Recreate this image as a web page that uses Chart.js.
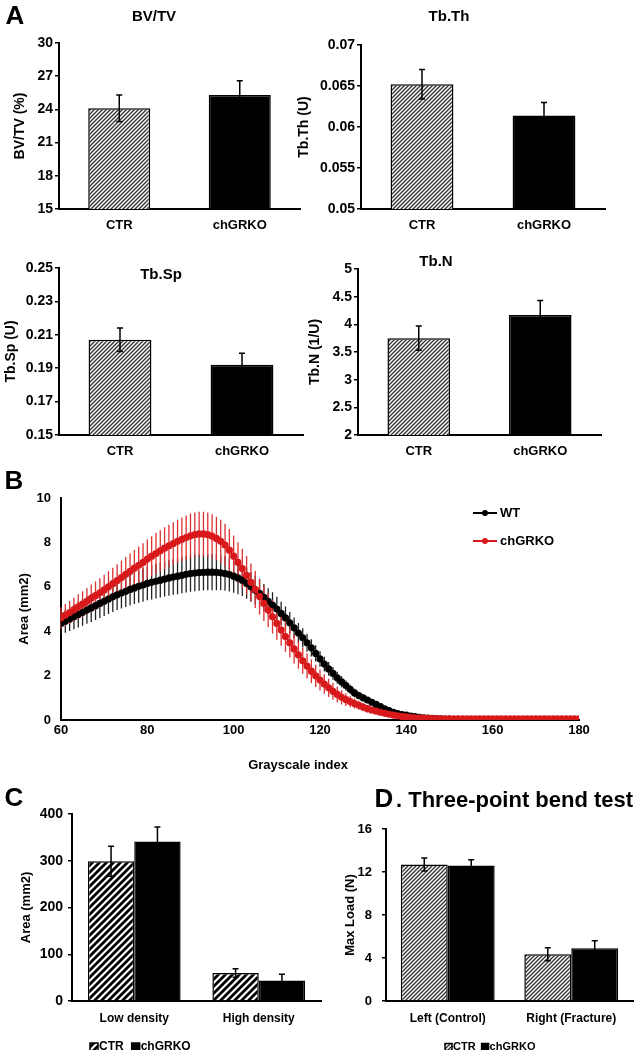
<!DOCTYPE html>
<html><head><meta charset="utf-8">
<script src="https://cdn.jsdelivr.net/npm/chart.js@4.4.0/dist/chart.umd.min.js"></script>
<style>
html,body{margin:0;padding:0;background:#fff;}
#fig{position:relative;width:636px;height:1050px;background:#fff;overflow:hidden;}
#fig canvas{position:absolute;}
</style></head><body><div id="fig"></div>
<script>
// ---------------- DATA ----------------
const groupsA = ['CTR', 'chGRKO'];
const bvtvMean = [24.1, 25.3];
const bvtvErr = [1.2, 1.3];
const tbthMean = [0.0652, 0.0614];
const tbthErr = [0.0018, 0.0016];
const tbspMean = [0.207, 0.192];
const tbspErr = [0.007, 0.007];
const tbnMean = [3.75, 4.17];
const tbnErr = [0.22, 0.26];

const densityCats = ['Low density', 'High density'];
const densityCTR = [299, 60];
const densityCTRErr = [32, 9];
const densityKO = [341, 44];
const densityKOErr = [31, 13];

const bendCats = ['Left (Control)', 'Right (Fracture)'];
const bendCTR = [12.7, 4.35];
const bendCTRErr = [0.6, 0.6];
const bendKO = [12.6, 4.9];
const bendKOErr = [0.55, 0.7];

const grayscale = [60,61,62,63,64,65,66,67,68,69,70,71,72,73,74,75,76,77,78,79,
  80,81,82,83,84,85,86,87,88,89,90,91,92,93,94,95,96,97,98,99,
  100,101,102,103,104,105,106,107,108,109,110,111,112,113,114,115,116,117,118,119,
  120,121,122,123,124,125,126,127,128,129,130,131,132,133,134,135,136,137,138,139,
  140,141,142,143,144,145,146,147,148,149,150,151,152,153,154,155,156,157,158,159,
  160,161,162,163,164,165,166,167,168,169,170,171,172,173,174,175,176,177,178,179,180];
const areaWT = [4.35,4.45,4.55,4.65,4.75,4.85,4.95,5.05,5.15,5.25,
  5.35,5.45,5.55,5.64,5.72,5.80,5.88,5.95,6.02,6.08,
  6.15,6.20,6.25,6.30,6.35,6.40,6.44,6.48,6.52,6.56,
  6.60,6.62,6.64,6.65,6.66,6.66,6.65,6.63,6.60,6.55,
  6.48,6.40,6.30,6.15,6.00,5.85,5.70,5.52,5.35,5.18,
  5.00,4.80,4.60,4.38,4.15,3.92,3.70,3.48,3.25,3.00,
  2.75,2.52,2.30,2.10,1.90,1.72,1.55,1.38,1.22,1.10,
  1.00,0.90,0.80,0.70,0.60,0.50,0.42,0.35,0.29,0.24,
  0.22,0.18,0.15,0.12,0.10,0.08,0.07,0.06,0.05,0.04,
  0.04,0.03,0.03,0.03,0.02,0.02,0.02,0.02,0.02,0.02,
  0.02,0.02,0.02,0.02,0.02,0.02,0.02,0.02,0.02,0.02,
  0.02,0.02,0.02,0.02,0.02,0.02,0.02,0.02,0.02,0.02,0.02];
const areaWTsd = [0.50,0.52,0.54,0.56,0.58,0.60,0.62,0.63,0.64,0.65,
  0.66,0.67,0.68,0.69,0.70,0.71,0.72,0.73,0.74,0.75,
  0.76,0.77,0.78,0.78,0.79,0.80,0.80,0.81,0.81,0.82,
  0.82,0.82,0.82,0.82,0.81,0.81,0.80,0.79,0.78,0.76,
  0.75,0.73,0.71,0.69,0.67,0.65,0.63,0.61,0.59,0.57,
  0.55,0.53,0.51,0.49,0.47,0.45,0.43,0.41,0.39,0.37,
  0.35,0.33,0.31,0.29,0.27,0.25,0.23,0.21,0.19,0.17,
  0.15,0.14,0.13,0.12,0.11,0.10,0.09,0.08,0.07,0.06,
  0.05,0.05,0.04,0.04,0.03,0.03,0.03,0.02,0.02,0.02,
  0.01,0.01,0.01,0.01,0.01,0.01,0.01,0.01,0.01,0.01,
  0.01,0.01,0.01,0.01,0.01,0.01,0.01,0.01,0.01,0.01,
  0.01,0.01,0.01,0.01,0.01,0.01,0.01,0.01,0.01,0.01,0.01];
const areaKO = [4.60,4.72,4.84,4.97,5.10,5.22,5.35,5.48,5.60,5.73,
  5.86,6.00,6.14,6.28,6.42,6.56,6.70,6.84,6.97,7.10,
  7.25,7.38,7.50,7.62,7.74,7.85,7.95,8.05,8.14,8.22,
  8.30,8.35,8.38,8.38,8.35,8.28,8.18,8.05,7.88,7.65,
  7.38,7.10,6.82,6.52,6.20,5.88,5.56,5.25,4.95,4.65,
  4.35,4.05,3.76,3.48,3.20,2.93,2.67,2.43,2.20,1.99,
  1.80,1.62,1.45,1.29,1.15,1.02,0.92,0.83,0.74,0.66,
  0.58,0.51,0.45,0.40,0.35,0.30,0.26,0.22,0.19,0.16,
  0.14,0.12,0.10,0.09,0.08,0.07,0.06,0.06,0.05,0.05,
  0.05,0.05,0.05,0.05,0.05,0.05,0.05,0.05,0.05,0.05,
  0.05,0.05,0.05,0.05,0.05,0.05,0.05,0.05,0.05,0.05,
  0.05,0.05,0.05,0.05,0.05,0.05,0.05,0.05,0.05,0.05,0.05];
const areaKOsd = [0.48,0.50,0.52,0.54,0.56,0.58,0.60,0.62,0.64,0.66,
  0.68,0.70,0.72,0.74,0.76,0.78,0.80,0.82,0.84,0.86,
  0.88,0.90,0.92,0.93,0.94,0.95,0.96,0.97,0.98,0.99,
  1.00,1.00,1.00,1.00,1.00,0.99,0.98,0.97,0.96,0.95,
  0.93,0.91,0.89,0.87,0.85,0.83,0.81,0.79,0.77,0.75,
  0.73,0.71,0.69,0.67,0.65,0.62,0.59,0.56,0.53,0.50,
  0.47,0.44,0.41,0.38,0.35,0.32,0.29,0.26,0.23,0.21,
  0.19,0.17,0.15,0.13,0.11,0.10,0.09,0.08,0.07,0.06,
  0.05,0.05,0.04,0.04,0.03,0.03,0.03,0.02,0.02,0.02,
  0.01,0.01,0.01,0.01,0.01,0.01,0.01,0.01,0.01,0.01,
  0.01,0.01,0.01,0.01,0.01,0.01,0.01,0.01,0.01,0.01,
  0.01,0.01,0.01,0.01,0.01,0.01,0.01,0.01,0.01,0.01,0.01];

// ---------------- STYLE HELPERS ----------------
const FONT = "'Liberation Sans', Arial, Helvetica, sans-serif";
const RED = '#d8191c';
function bold(size) { return { family: FONT, size: size, weight: 'bold' }; }
function fmt(v) { return String(parseFloat(Number(v).toFixed(4))); }

function hatch(size, lw, color) {
  const c = document.createElement('canvas');
  c.width = size; c.height = size;
  const g = c.getContext('2d');
  g.fillStyle = '#fff'; g.fillRect(0, 0, size, size);
  g.strokeStyle = color; g.lineWidth = lw;
  g.beginPath();
  g.moveTo(-2, size + 2); g.lineTo(size + 2, -2);
  g.moveTo(-2, 2); g.lineTo(2, -2);
  g.moveTo(size - 2, size + 2); g.lineTo(size + 2, size - 2);
  g.stroke();
  return g.createPattern(c, 'repeat');
}
const fineHatch = hatch(4, 1.4, '#333');
const wideHatch = hatch(7, 2.8, '#000');

// error bars for bar charts
const barErrors = {
  id: 'barErrors',
  afterDatasetsDraw(chart, args, opts) {
    const ctx = chart.ctx, y = chart.scales.y;
    chart.data.datasets.forEach((ds, di) => {
      if (!ds.errors) return;
      const meta = chart.getDatasetMeta(di);
      meta.data.forEach((bar, i) => {
        const v = ds.data[i], e = ds.errors[i];
        const yt = y.getPixelForValue(v + e), yb = y.getPixelForValue(v - e);
        const cw = opts.cap || 3;
        ctx.save();
        ctx.strokeStyle = '#000'; ctx.lineWidth = opts.width || 1.5;
        ctx.beginPath();
        ctx.moveTo(bar.x, yt); ctx.lineTo(bar.x, yb);
        ctx.moveTo(bar.x - cw, yt); ctx.lineTo(bar.x + cw, yt);
        ctx.moveTo(bar.x - cw, yb); ctx.lineTo(bar.x + cw, yb);
        ctx.stroke();
        ctx.restore();
      });
    });
  }
};

// error bars for line chart (drawn beneath the lines)
const lineErrors = {
  id: 'lineErrors',
  beforeDatasetsDraw(chart) {
    const ctx = chart.ctx, x = chart.scales.x, y = chart.scales.y;
    chart.data.datasets.forEach((ds) => {
      if (!ds.sd) return;
      ctx.save();
      ctx.strokeStyle = ds.errColor || ds.borderColor; ctx.lineWidth = 1.3;
      ctx.beginPath();
      ds.data.forEach((p, i) => {
        const px = x.getPixelForValue(p.x);
        ctx.moveTo(px, y.getPixelForValue(p.y + ds.sd[i]));
        ctx.lineTo(px, y.getPixelForValue(Math.max(0, p.y - ds.sd[i])));
      });
      ctx.stroke();
      ctx.restore();
    });
  }
};

// free text (panel letters, titles)
const freeText = {
  id: 'freeText',
  afterDraw(chart, args, opts) {
    const ctx = chart.ctx;
    (opts.items || []).forEach(it => {
      ctx.save();
      ctx.font = it.font; ctx.fillStyle = it.color || '#000';
      ctx.textAlign = it.align || 'center'; ctx.textBaseline = 'middle';
      ctx.fillText(it.text, it.x, it.y);
      ctx.restore();
    });
  }
};

// bar legend (box + label), drawn from datasets
const boxLegend = {
  id: 'boxLegend',
  afterDraw(chart, args, opts) {
    if (!opts.x) return;
    const ctx = chart.ctx;
    let x = opts.x;
    const s = opts.box;
    ctx.save();
    ctx.font = 'bold ' + opts.size + 'px ' + FONT;
    ctx.textBaseline = 'middle'; ctx.textAlign = 'left';
    chart.data.datasets.forEach(ds => {
      ctx.fillStyle = ds.backgroundColor;
      ctx.fillRect(x, opts.y - s / 2, s, s);
      ctx.strokeStyle = '#000'; ctx.lineWidth = 1.5;
      ctx.strokeRect(x, opts.y - s / 2, s, s);
      ctx.fillStyle = '#000';
      ctx.fillText(ds.label, x + s + 1, opts.y);
      x += s + 1 + ctx.measureText(ds.label).width + opts.gap;
    });
    ctx.restore();
  }
};

// line legend
const lineLegend = {
  id: 'lineLegend',
  afterDraw(chart, args, opts) {
    if (!opts.x) return;
    const ctx = chart.ctx;
    ctx.save();
    ctx.font = 'bold ' + opts.size + 'px ' + FONT;
    ctx.textBaseline = 'middle'; ctx.textAlign = 'left';
    chart.data.datasets.forEach((ds, i) => {
      const y = opts.y + i * opts.step;
      ctx.strokeStyle = ds.borderColor; ctx.lineWidth = 2;
      ctx.beginPath(); ctx.moveTo(opts.x, y); ctx.lineTo(opts.x + 24, y); ctx.stroke();
      ctx.fillStyle = ds.borderColor;
      ctx.beginPath(); ctx.arc(opts.x + 12, y, 3, 0, Math.PI * 2); ctx.fill();
      ctx.fillStyle = '#000';
      ctx.fillText(ds.label, opts.x + 27, y);
    });
    ctx.restore();
  }
};

Chart.register(barErrors, lineErrors, freeText, boxLegend, lineLegend);

// build a chart whose plot area sits at fixed page coordinates
function makeChart(g, config) {
  const cv = document.createElement('canvas');
  cv.width = g.w; cv.height = g.h;
  cv.style.left = g.x + 'px'; cv.style.top = g.y + 'px';
  cv.style.width = g.w + 'px'; cv.style.height = g.h + 'px';
  document.getElementById('fig').appendChild(cv);
  const o = config.options;
  o.responsive = false; o.animation = false; o.devicePixelRatio = 1;
  o.layout = { padding: { left: 0, top: g.t - g.y, right: g.x + g.w - g.r, bottom: 0 } };
  o.scales.y.afterFit = s => { s.width = g.l - g.x; };
  o.scales.x.afterFit = s => { s.height = g.y + g.h - g.b; };
  o.plugins = Object.assign({ legend: { display: false }, tooltip: { enabled: false } }, o.plugins || {});
  return new Chart(cv, config);
}

function yAxis(min, max, step, title, tickSize, titleSize, titlePad, tickPad) {
  return {
    min: min, max: max,
    ticks: { stepSize: step, color: '#000', font: bold(tickSize), padding: tickPad, callback: fmt },
    grid: { display: true, drawOnChartArea: false, drawTicks: true, tickLength: 4, color: '#000', lineWidth: 1.5 },
    border: { display: true, color: '#000', width: 2 },
    title: { display: true, text: title, color: '#000', font: bold(titleSize), padding: { top: titlePad, bottom: 0 } }
  };
}
function xCat(size, pad) {
  return {
    type: 'category', offset: true,
    ticks: { color: '#000', font: bold(size), padding: pad },
    grid: { display: false, drawTicks: false },
    border: { display: true, color: '#000', width: 2 }
  };
}

// ---------------- PANEL A ----------------
function panelA(g, mean, err, min, max, step, ytitle, titlePad, texts) {
  return makeChart(g, {
    type: 'bar',
    data: {
      labels: groupsA,
      datasets: [{
        data: mean, errors: err,
        backgroundColor: [fineHatch, '#000'],
        borderColor: '#000', borderWidth: 1.5,
        barPercentage: 1, categoryPercentage: 0.515
      }]
    },
    options: {
      scales: { x: xCat(13, 9), y: yAxis(min, max, step, ytitle, 14, 14, titlePad, 2) },
      plugins: { barErrors: { cap: 3, width: 1.5 }, freeText: { items: texts } }
    }
  });
}

panelA({ x: 0, y: 0, w: 318, h: 236, l: 59, r: 300, t: 43, b: 209 },
  bvtvMean, bvtvErr, 15, 30, 3, 'BV/TV (%)', 12,
  [{ text: 'A', x: 15, y: 17, font: 'bold 26px ' + FONT },
   { text: 'BV/TV', x: 154, y: 17, font: 'bold 15px ' + FONT }]);

panelA({ x: 294, y: 0, w: 342, h: 236, l: 361, r: 605, t: 45, b: 209 },
  tbthMean, tbthErr, 0.05, 0.07, 0.005, 'Tb.Th (U)', 2,
  [{ text: 'Tb.Th', x: 449 - 294, y: 17, font: 'bold 15px ' + FONT }]);

panelA({ x: 0, y: 236, w: 318, h: 224, l: 59, r: 303, t: 268, b: 435 },
  tbspMean, tbspErr, 0.15, 0.25, 0.02, 'Tb.Sp (U)', 3,
  [{ text: 'Tb.Sp', x: 161, y: 275 - 236, font: 'bold 15px ' + FONT }]);

panelA({ x: 294, y: 236, w: 342, h: 224, l: 358, r: 601, t: 269, b: 435 },
  tbnMean, tbnErr, 2, 5, 0.5, 'Tb.N (1/U)', 13,
  [{ text: 'Tb.N', x: 436 - 294, y: 262 - 236, font: 'bold 15px ' + FONT }]);

// ---------------- PANEL B ----------------
makeChart({ x: 0, y: 460, w: 636, h: 320, l: 61, r: 579, t: 498, b: 720 }, {
  type: 'line',
  data: {
    datasets: [
      { label: 'WT', data: grayscale.map((v, i) => ({ x: v, y: areaWT[i] })), sd: areaWTsd,
        borderColor: '#000', backgroundColor: '#000', pointBackgroundColor: '#000', errColor: '#222',
        borderWidth: 2, pointRadius: 3.6, pointBorderWidth: 0, order: 1 },
      { label: 'chGRKO', data: grayscale.map((v, i) => ({ x: v, y: areaKO[i] })), sd: areaKOsd,
        borderColor: RED, backgroundColor: RED, pointBackgroundColor: RED, errColor: '#dd3030',
        borderWidth: 2, pointRadius: 3.6, pointBorderWidth: 0, order: 0 }
    ]
  },
  options: {
    scales: {
      x: { type: 'linear', min: 60, max: 180,
           ticks: { stepSize: 20, color: '#000', font: bold(13), padding: 3 },
           grid: { display: false, drawTicks: false },
           border: { display: true, color: '#000', width: 2 } },
      y: { min: 0, max: 10,
           ticks: { stepSize: 2, color: '#000', font: bold(13), padding: 10 },
           grid: { display: false, drawTicks: false },
           border: { display: true, color: '#000', width: 2 },
           title: { display: true, text: 'Area (mm2)', color: '#000', font: bold(13), padding: { top: 17, bottom: 0 } } }
    },
    plugins: {
      lineLegend: { x: 473, y: 513 - 460, step: 28, size: 13 },
      freeText: { items: [
        { text: 'B', x: 14, y: 482 - 460, font: 'bold 26px ' + FONT },
        { text: 'Grayscale index', x: 298, y: 765 - 460, font: 'bold 13px ' + FONT }
      ] }
    }
  }
});

// ---------------- PANEL C ----------------
makeChart({ x: 0, y: 780, w: 330, h: 270, l: 72, r: 321, t: 814, b: 1001 }, {
  type: 'bar',
  data: {
    labels: densityCats,
    datasets: [
      { label: 'CTR', data: densityCTR, errors: densityCTRErr, backgroundColor: wideHatch,
        borderColor: '#000', borderWidth: 1.5, barPercentage: 1, categoryPercentage: 0.745 },
      { label: 'chGRKO', data: densityKO, errors: densityKOErr, backgroundColor: '#000',
        borderColor: '#000', borderWidth: 1.5, barPercentage: 1, categoryPercentage: 0.745 }
    ]
  },
  options: {
    scales: { x: xCat(12, 10), y: yAxis(0, 400, 100, 'Area (mm2)', 14, 13, 19, 5) },
    plugins: {
      barErrors: { cap: 3, width: 1.5 },
      boxLegend: { x: 90, y: 1047 - 780, box: 8, size: 12, gap: 8 },
      freeText: { items: [{ text: 'C', x: 14, y: 799 - 780, font: 'bold 26px ' + FONT }] }
    }
  }
});

// ---------------- PANEL D ----------------
makeChart({ x: 318, y: 780, w: 318, h: 270, l: 386, r: 633, t: 829, b: 1001 }, {
  type: 'bar',
  data: {
    labels: bendCats,
    datasets: [
      { label: 'CTR', data: bendCTR, errors: bendCTRErr, backgroundColor: fineHatch,
        borderColor: '#000', borderWidth: 1.5, barPercentage: 1, categoryPercentage: 0.76 },
      { label: 'chGRKO', data: bendKO, errors: bendKOErr, backgroundColor: '#000',
        borderColor: '#000', borderWidth: 1.5, barPercentage: 1, categoryPercentage: 0.76 }
    ]
  },
  options: {
    scales: { x: xCat(12, 10), y: yAxis(0, 16, 4, 'Max Load (N)', 13, 13, 25, 10) },
    plugins: {
      barErrors: { cap: 3, width: 1.5 },
      boxLegend: { x: 445 - 318, y: 1047 - 780, box: 7, size: 11, gap: 6 },
      freeText: { items: [
        { text: 'D', x: 384 - 318, y: 800 - 780, font: 'bold 26px ' + FONT },
        { text: '. Three-point bend test', x: 396 - 318, y: 801 - 780, align: 'left', font: 'bold 22px ' + FONT }
      ] }
    }
  }
});
</script>
</body></html>
